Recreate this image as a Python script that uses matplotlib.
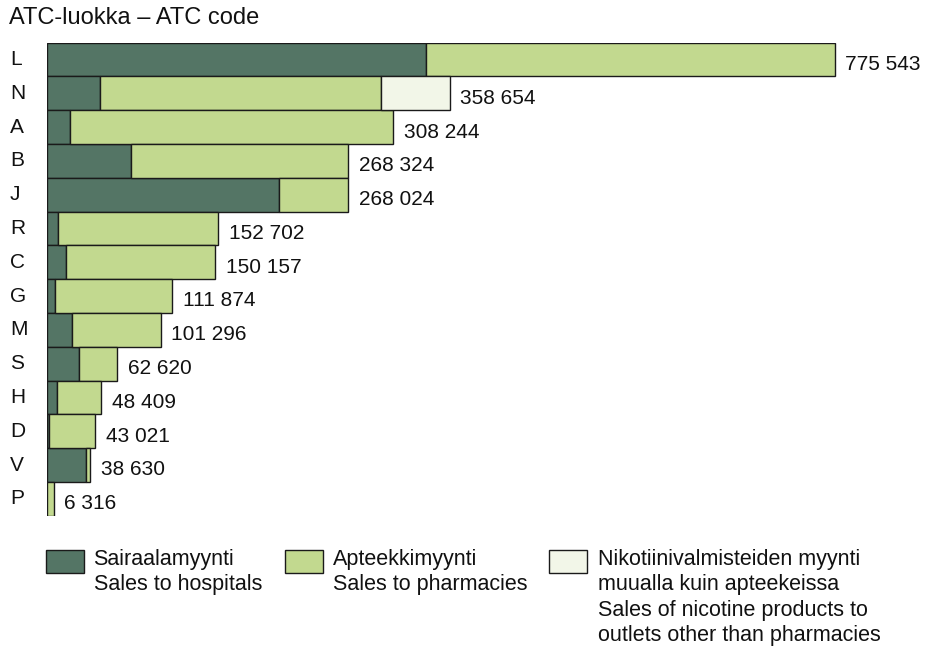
import matplotlib
matplotlib.use("Agg")
import matplotlib.pyplot as plt
from matplotlib.patches import Rectangle
import numpy as np

plt.rcParams['font.family'] = ['Liberation Sans', 'DejaVu Sans']

categories = ['L', 'N', 'A', 'B', 'J', 'R', 'C', 'G', 'M', 'S', 'H', 'D', 'V', 'P']
hospitals = [337300, 47400, 21000, 75000, 206500, 9800, 17500, 7100, 22300, 28500, 9200, 2000, 35000, 0]
pharmacies = [364000, 250100, 287244, 193324, 61524, 142902, 132657, 104774, 78996, 34120, 39209, 41021, 3630, 6316]
nicotine = [0, 61154, 0, 0, 0, 0, 0, 0, 0, 0, 0, 0, 0, 0]
totals = [775543, 358654, 308244, 268324, 268024, 152702, 150157, 111874, 101296, 62620, 48409, 43021, 38630, 6316]

title = 'ATC-luokka \u2013 ATC code'
legend_labels = ['Sairaalamyynti\nSales to hospitals',
                 'Apteekkimyynti\nSales to pharmacies',
                 'Nikotiinivalmisteiden myynti\nmuualla kuin apteekeissa\nSales of nicotine products to\noutlets other than pharmacies']

c_hosp = '#547565'
c_pharm = '#c2d98f'
c_nic = '#f2f6e8'
edge = '#1a1a1a'

W, H = 931, 651
fig = plt.figure(figsize=(W / 100, H / 100), dpi=100)
ax = fig.add_axes([46.7 / W, 1 - 515.7 / H, 1 - 46.7 / W, (515.7 - 42.7) / H])

y = np.arange(len(categories))
h = np.array(hospitals)
p = np.array(pharmacies)
n = np.array(nicotine)

ax.barh(y, h, height=1.0, color=c_hosp, edgecolor=edge, linewidth=1.0)
ax.barh(y, p, left=h, height=1.0, color=c_pharm, edgecolor=edge, linewidth=1.0)
nz = n > 0
ax.barh(y[nz], n[nz], left=(h + p)[nz], height=1.0, color=c_nic, edgecolor=edge, linewidth=1.0)

ax.set_xlim(0, 787000)
ax.set_ylim(len(categories) - 0.5, -0.5)
ax.axis('off')

ends = h + p + n
for yi, e, t in zip(y, ends, totals):
    ax.annotate(f"{t:,}".replace(',', ' '), xy=(e, yi), xytext=(7.7, -3.5),
                textcoords='offset points', ha='left', va='center', fontsize=15, color='#111111')

trans = matplotlib.transforms.blended_transform_factory(fig.transFigure, ax.transData)
for yi, c in zip(y, categories):
    fig.text(10 / W, yi, c, transform=trans, ha='left', va='center', fontsize=15, color='#111111')

fig.text(9 / W, 1 - 18.5 / H, title, ha='left', va='center', fontsize=17, color='#111111')

patch_x = [46, 284.5, 548.5]
text_x = [93.5, 333, 597.5]
cols = [c_hosp, c_pharm, c_nic]
for px, tx, col, lab in zip(patch_x, text_x, cols, legend_labels):
    fig.add_artist(Rectangle((px / W, 1 - 573 / H), 38 / W, 23 / H, transform=fig.transFigure,
                             facecolor=col, edgecolor=edge, linewidth=1.0))
    fig.text(tx / W, 1 - 548.5 / H, lab, ha='left', va='top', fontsize=15.5,
             linespacing=1.29, color='#111111')

fig.savefig('out.png', dpi=100)
